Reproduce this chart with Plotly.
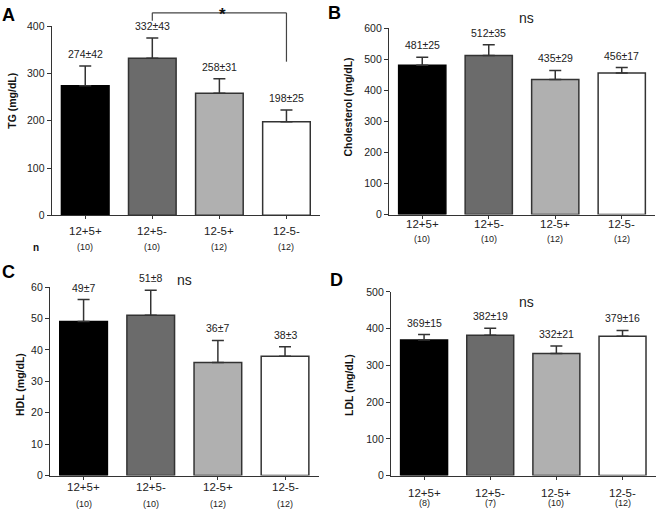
import plotly.graph_objects as go

W, H = 656, 517
FONT = "Liberation Sans, Arial, sans-serif"

categories = ["12+5+", "12+5-", "12-5+", "12-5-"]
bar_colors = ["#000000", "#6b6b6b", "#b0b0b0", "#ffffff"]
line_colors = ["#000000", "#333333", "#333333", "#333333"]

tg_mean = [274, 332, 258, 198]
tg_sem = [42, 43, 31, 25]
tg_n = ["(10)", "(10)", "(12)", "(12)"]

chol_mean = [481, 512, 435, 456]
chol_sem = [25, 35, 29, 17]
chol_n = ["(10)", "(10)", "(12)", "(12)"]

hdl_mean = [49, 51, 36, 38]
hdl_sem = [7, 8, 7, 3]
hdl_n = ["(10)", "(10)", "(12)", "(12)"]

ldl_mean = [369, 382, 332, 379]
ldl_sem = [15, 19, 21, 16]
ldl_n = ["(8)", "(7)", "(10)", "(12)"]


def px_x(p):
    return p / W


def px_y(p):
    return 1 - p / H


panels = [
    dict(ax="", letter="A", mean=tg_mean, sem=tg_sem, n=tg_n, title="TG (mg/dL)",
         yrange=[0, 400], dtick=100, xd=[51.7, 320], yd=[20.7, 214.3],
         cat_y=230, n_y=247, letter_xy=(8, 9), title_xy=(12, 97), ns=None),
    dict(ax="2", letter="B", mean=chol_mean, sem=chol_sem, n=chol_n, title="Cholesterol (mg/dL)",
         yrange=[0, 600], dtick=100, xd=[389, 655], yd=[22.7, 213.5],
         cat_y=223, n_y=239, letter_xy=(335, 7), title_xy=(348, 104), ns=(526, 12)),
    dict(ax="3", letter="C", mean=hdl_mean, sem=hdl_sem, n=hdl_n, title="HDL (mg/dL)",
         yrange=[0, 60], dtick=10, xd=[50, 318.6], yd=[287.7, 480.7],
         cat_y=492, n_y=510, letter_xy=(8, 272), title_xy=(20, 388), ns=(185, 280)),
    dict(ax="4", letter="D", mean=ldl_mean, sem=ldl_sem, n=ldl_n, title="LDL (mg/dL)",
         yrange=[0, 500], dtick=100, xd=[391, 655.6], yd=[292.7, 480.7],
         cat_y=499, n_y=509, letter_xy=(336, 280), title_xy=(349, 388), ns=(526, 303)),
]

fig = go.Figure()
annotations = []
shapes = []
layout = {}

for p in panels:
    xa = "x" + p["ax"]
    ya = "y" + p["ax"]
    fig.add_trace(go.Bar(
        x=categories, y=p["mean"], xaxis=xa, yaxis=ya, width=0.71,
        marker=dict(color=bar_colors, line=dict(color=line_colors, width=1.5)),
        error_y=dict(type="data", array=p["sem"], symmetric=False, arrayminus=[0] * 4,
                     color="#333333", thickness=1.5, width=6),
        showlegend=False, hoverinfo="skip",
    ))
    layout["xaxis" + p["ax"]] = dict(
        domain=[px_x(p["xd"][0]), px_x(p["xd"][1])], anchor=ya,
        type="category", range=[-0.5, 3.5],
        showline=True, linecolor="#333333", linewidth=1.2,
        ticks="outside", ticklen=3, tickcolor="#333333", tickwidth=1,
        showticklabels=False,
        showgrid=False, zeroline=False, fixedrange=True,
    )
    layout["yaxis" + p["ax"]] = dict(
        domain=[px_y(p["yd"][1]), px_y(p["yd"][0])], anchor=xa,
        range=p["yrange"], dtick=p["dtick"], tick0=0,
        showline=True, linecolor="#333333", linewidth=1.2,
        ticks="outside", ticklen=4, tickcolor="#333333", tickwidth=1,
        tickfont=dict(family=FONT, size=10.5, color="#222222"),
        showgrid=False, zeroline=False, fixedrange=True,
    )
    # category labels
    for c in categories:
        annotations.append(dict(
            x=c, y=px_y(p["cat_y"]), xref=xa, yref="paper", text=c, showarrow=False,
            yanchor="middle", font=dict(family=FONT, size=11.5, color="#222222"),
        ))
    # value labels
    for c, m, e in zip(categories, p["mean"], p["sem"]):
        annotations.append(dict(
            x=c, y=m + e, xref=xa, yref=ya, text=f"{m}\u00b1{e}", showarrow=False,
            yanchor="bottom", yshift=4,
            font=dict(family=FONT, size=10.5, color="#222222"),
        ))
    # n labels
    for c, nn in zip(categories, p["n"]):
        annotations.append(dict(
            x=c, y=px_y(p["n_y"]), xref=xa, yref="paper", text=nn, showarrow=False,
            yanchor="middle", font=dict(family=FONT, size=9, color="#222222"),
        ))
    # panel letters
    annotations.append(dict(
        x=px_x(p["letter_xy"][0]), y=px_y(p["letter_xy"][1]), xref="paper", yref="paper",
        text=f"<b>{p['letter']}</b>", showarrow=False, xanchor="center", yanchor="middle",
        font=dict(family=FONT, size=18, color="#000000"),
    ))
    # y titles
    annotations.append(dict(
        x=px_x(p["title_xy"][0]), y=px_y(p["title_xy"][1]), xref="paper", yref="paper",
        text=f"<b>{p['title']}</b>", showarrow=False, textangle=-90,
        xanchor="center", yanchor="middle",
        font=dict(family=FONT, size=10.5, color="#111111"),
    ))
    if p["ns"]:
        annotations.append(dict(
            x=px_x(p["ns"][0]), y=px_y(p["ns"][1]), xref="paper", yref="paper",
            text="ns", showarrow=False, xanchor="center", yanchor="middle",
            font=dict(family=FONT, size=14, color="#222222"),
        ))

# "n" row label in panel A
annotations.append(dict(
    x=px_x(36), y=px_y(247), xref="paper", yref="paper", text="<b>n</b>",
    showarrow=False, xanchor="center", yanchor="middle",
    font=dict(family=FONT, size=10, color="#111111"),
))

# significance bracket in panel A (between 12+5- and 12-5-)
br_top, br_left, br_right = px_y(7), px_y(15), px_y(57)
bline = dict(color="#444444", width=1.2)
shapes.append(dict(type="line", xref="x", yref="paper", x0=1, x1=1, y0=br_left, y1=br_top, line=bline))
shapes.append(dict(type="line", xref="x", yref="paper", x0=1, x1=3, y0=br_top, y1=br_top, line=bline))
shapes.append(dict(type="line", xref="x", yref="paper", x0=3, x1=3, y0=br_top, y1=br_right, line=bline))
annotations.append(dict(
    x=2.05, y=px_y(9), xref="x", yref="paper", text="<b>*</b>", showarrow=False,
    xanchor="center", yanchor="middle", font=dict(family=FONT, size=17, color="#111111"),
))

fig.update_layout(
    width=W, height=H, margin=dict(l=0, r=0, t=0, b=0),
    paper_bgcolor="white", plot_bgcolor="white",
    annotations=annotations, shapes=shapes, bargap=0.29,
    font=dict(family=FONT),
    **layout,
)

fig.write_html("out.html", config={"displayModeBar": False},
               post_script="document.body.style.margin='0';")
